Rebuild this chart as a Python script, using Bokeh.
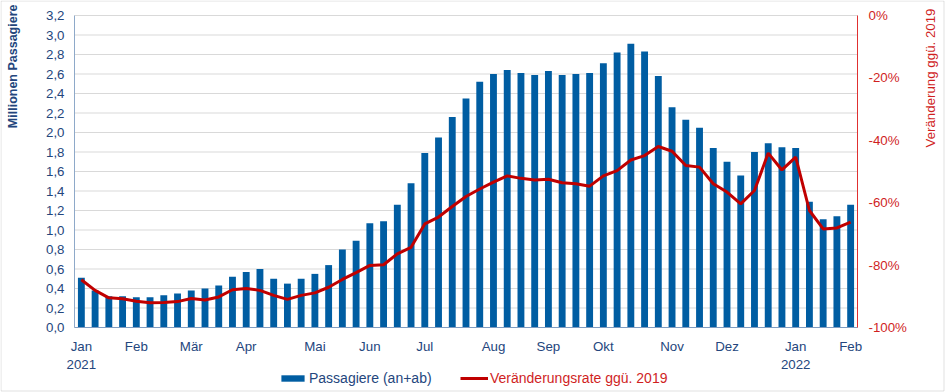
from bokeh.plotting import figure
from bokeh.models import (Range1d, LinearAxis, FixedTicker, CustomJSTickFormatter,
                          Legend, LegendItem, Label, BoxAnnotation, ColumnDataSource)
from bokeh.embed import file_html
from bokeh.resources import INLINE

# ---- data (weekly, Jan 2021 - Feb 2022) ----
passengers = [0.51, 0.38, 0.32, 0.32, 0.31, 0.31, 0.33, 0.35, 0.38, 0.40, 0.43, 0.52,
              0.57, 0.60, 0.50, 0.45, 0.50, 0.55, 0.64, 0.80, 0.89, 1.07, 1.09, 1.26,
              1.48, 1.79, 1.95, 2.16, 2.35, 2.52, 2.60, 2.64, 2.61, 2.59, 2.63, 2.59,
              2.60, 2.61, 2.71, 2.82, 2.91, 2.83, 2.58, 2.26, 2.13, 2.05, 1.84, 1.70,
              1.56, 1.80, 1.89, 1.85, 1.84, 1.29, 1.11, 1.14, 1.26]
change_2019 = [-84.7, -88.1, -90.5, -90.8, -91.6, -92.1, -92.0, -91.7, -90.7, -91.2,
               -90.2, -87.9, -87.5, -88.1, -89.7, -91.0, -89.7, -88.9, -87.1, -84.6,
               -82.4, -80.1, -79.9, -76.4, -74.3, -66.8, -64.6, -61.2, -58.0, -55.6,
               -53.4, -51.4, -52.2, -52.7, -52.5, -53.6, -53.9, -54.7, -51.4, -49.7,
               -46.3, -44.9, -42.0, -43.5, -48.1, -48.6, -53.9, -56.6, -60.4, -56.1,
               -44.1, -49.5, -45.4, -62.5, -68.4, -68.1, -66.2]
week = list(range(len(passengers)))
month_tick_pos = [0, 4, 8, 12, 17, 21, 25, 30, 34, 38, 43, 47, 52, 56]
month_tick_labels = ["Jan\n2021", "Feb", "Mär", "Apr", "Mai", "Jun", "Jul", "Aug",
                     "Sep", "Okt", "Nov", "Dez", "Jan\n2022", "Feb"]
left_ticks = [round(i * 0.2, 1) for i in range(17)]
right_ticks = [-100, -80, -60, -40, -20, 0]

# ---- layout geometry (pixels) ----
W, H = 945, 392
PL, PR, PT, PB = 74, 857, 15, 327          # plot area edges inside the figure
n = len(week)
xmin, xmax = -0.5, n - 0.5
ppx = (PR - PL) / (xmax - xmin)
x_lo = xmin - PL / ppx
x_hi = xmax + (W - PR) / ppx
LMAX, RMIN, RMAX = 3.2, -100.0, 0.0
ppy = (PB - PT) / LMAX
ppr = (PB - PT) / (RMAX - RMIN)

BLUE = "#005DA2"
RED = "#C00000"
TXT_BLUE = "#24467D"
TXT_RED = "#D01F1F"
FONT = "Liberation Sans"

src = ColumnDataSource(dict(week=week, pax=passengers, chg=change_2019))

p = figure(width=W, height=H, output_backend="svg", toolbar_location=None,
           x_range=Range1d(x_lo, x_hi),
           y_range=Range1d(-(H - PB) / ppy, LMAX + PT / ppy),
           min_border=0)
p.extra_y_ranges = {"pct": Range1d(RMIN - (H - PB) / ppr, RMAX + PT / ppr)}
p.outline_line_color = None
p.background_fill_color = "white"
p.border_fill_color = "white"
p.xgrid.visible = False
p.ygrid.visible = False

# horizontal gridlines between the two axes
p.segment(x0=xmin, x1=xmax, y0=left_ticks, y1=left_ticks, line_color="#D9D9D9", line_width=1)

bars = p.vbar(x="week", top="pax", width=0.5, source=src, fill_color=BLUE, line_color=None)
line = p.line(x="week", y="chg", source=src, y_range_name="pct", line_color=RED, line_width=3)

# left axis
ya = p.yaxis[0]
ya.fixed_location = xmin
ya.bounds = (0, LMAX)
ya.ticker = FixedTicker(ticks=left_ticks)
ya.formatter = CustomJSTickFormatter(code="return tick.toFixed(1).replace('.', ',');")
ya.major_tick_line_color = None
ya.minor_tick_line_color = None
ya.major_tick_out = 0
ya.major_tick_in = 0
ya.axis_line_color = "#8EA9C9"
ya.major_label_text_font = FONT
ya.major_label_text_font_size = "13.3px"
ya.major_label_text_color = TXT_BLUE
ya.major_label_standoff = 10

# right axis
ra = LinearAxis(y_range_name="pct", ticker=FixedTicker(ticks=right_ticks),
                formatter=CustomJSTickFormatter(code="return tick.toFixed(0) + '%';"))
ra.fixed_location = xmax
ra.bounds = (RMIN, RMAX)
ra.major_tick_line_color = None
ra.minor_tick_line_color = None
ra.major_tick_out = 0
ra.major_tick_in = 0
ra.axis_line_color = "#E03030"
ra.major_label_text_font = FONT
ra.major_label_text_font_size = "13.3px"
ra.major_label_text_color = TXT_RED
ra.major_label_standoff = 11
p.add_layout(ra, "right")

# x axis
xa = p.xaxis[0]
xa.fixed_location = 0
xa.bounds = (xmin, xmax)
xa.ticker = FixedTicker(ticks=month_tick_pos)
xa.major_label_overrides = {k: v for k, v in zip(month_tick_pos, month_tick_labels)}
xa.major_tick_line_color = None
xa.minor_tick_line_color = None
xa.major_tick_out = 0
xa.major_tick_in = 0
xa.axis_line_color = "#7F9CC0"
xa.major_label_text_font = FONT
xa.major_label_text_font_size = "13.3px"
xa.major_label_text_color = TXT_BLUE
xa.major_label_standoff = 11

# axis titles
p.add_layout(Label(x=12.5, y=H - 4, x_units="screen", y_units="screen",
                   text="Millionen Passagiere", angle=1.5708, text_align="right",
                   text_baseline="middle", text_font=FONT, text_font_size="12.5px",
                   text_font_style="bold", text_color=TXT_BLUE))
p.add_layout(Label(x=930, y=H - 8, x_units="screen", y_units="screen",
                   text="Veränderung ggü. 2019", angle=1.5708, text_align="right",
                   text_baseline="middle", text_font=FONT, text_font_size="13.3px",
                   text_color=TXT_RED))

# legends
leg1 = Legend(items=[LegendItem(label="Passagiere (an+ab)", renderers=[bars])],
              location=(278, 6), orientation="horizontal", padding=0, margin=0,
              border_line_color=None, background_fill_alpha=0,
              glyph_width=29, glyph_height=8, label_height=16, label_standoff=2,
              label_text_font=FONT, label_text_font_size="14px", label_text_color=TXT_BLUE)
leg2 = Legend(items=[LegendItem(label="Veränderungsrate ggü. 2019", renderers=[line])],
              location=(460, 6), orientation="horizontal", padding=0, margin=0,
              border_line_color=None, background_fill_alpha=0,
              glyph_width=28, glyph_height=8, label_height=16, label_standoff=2,
              label_text_font=FONT, label_text_font_size="14px", label_text_color=TXT_RED)
p.add_layout(leg1, "center")
p.add_layout(leg2, "center")

# outer chart border
p.add_layout(BoxAnnotation(left=0.5, right=943.5, bottom=1.5, top=H - 0.5,
                           left_units="screen", right_units="screen",
                           bottom_units="screen", top_units="screen",
                           fill_alpha=0, line_color="#9A9A9A", line_width=1))

open("out.html", "w").write(file_html(p, INLINE))
